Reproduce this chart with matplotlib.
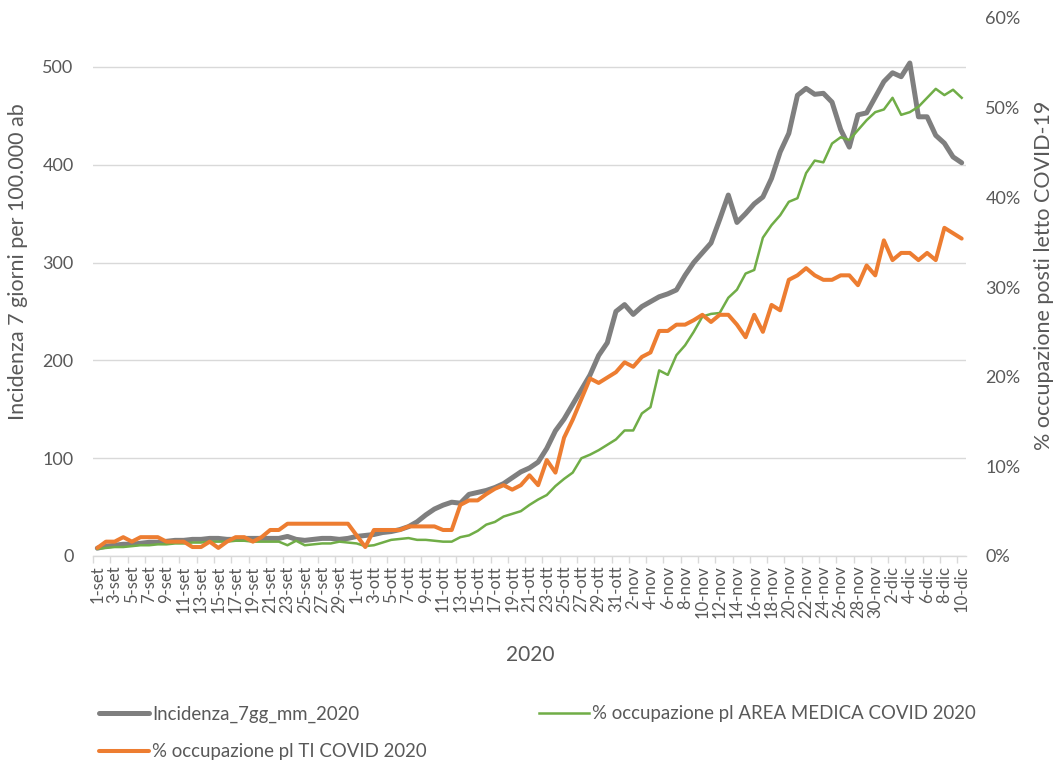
import matplotlib
matplotlib.use("Agg")
import matplotlib.pyplot as plt
from matplotlib.ticker import PercentFormatter, FixedLocator, MultipleLocator
import pandas as pd
import numpy as np

# ---- data ----
start_date = "2020-09-01"
mesi = {9: "set", 10: "ott", 11: "nov", 12: "dic"}

incidenza = [8, 10, 11, 12, 12, 13, 14, 14, 15, 16,
             16, 17, 17, 18, 18, 17, 17, 18, 18, 18,
             18, 18, 20, 17, 16, 17, 18, 18, 17, 18,
             20, 21, 22, 24, 25, 27, 30, 35, 42, 48,
             52, 55, 54, 63, 65, 67, 70, 74, 80, 86,
             90, 96, 110, 128, 140, 155, 170, 185, 205, 218,
             250, 257, 247, 255, 260, 265, 268, 272, 287, 300,
             310, 320, 344, 369, 341, 350, 360, 367, 386, 413,
             432, 471, 478, 472, 473, 464, 436, 418, 451, 453,
             469, 485, 494, 490, 504, 449, 449, 430, 422, 408,
             402]

area_medica = [0.8, 0.9, 1.0, 1.0, 1.1, 1.2, 1.2, 1.3, 1.3, 1.4,
               1.4, 1.5, 1.5, 1.6, 1.6, 1.6, 1.7, 1.7, 1.6, 1.6,
               1.6, 1.6, 1.2, 1.7, 1.2, 1.3, 1.4, 1.4, 1.6, 1.5,
               1.4, 1.1, 1.2, 1.5, 1.8, 1.9, 2.0, 1.8, 1.8, 1.7,
               1.6, 1.6, 2.1, 2.3, 2.8, 3.5, 3.8, 4.4, 4.7, 5.0,
               5.7, 6.3, 6.8, 7.8, 8.6, 9.3, 10.9, 11.3, 11.8, 12.4,
               13.0, 14.0, 14.0, 15.9, 16.6, 20.7, 20.2, 22.4, 23.5, 25.0,
               26.7, 27.0, 27.1, 28.8, 29.7, 31.5, 31.9, 35.5, 36.9, 38.0,
               39.5, 39.9, 42.7, 44.1, 43.9, 46.0, 46.7, 46.4, 47.5, 48.6,
               49.5, 49.8, 51.1, 49.2, 49.5, 50.1, 51.1, 52.1, 51.4, 52.0,
               51.1]

terapia_intensiva = [0.9, 1.6, 1.6, 2.1, 1.6, 2.1, 2.1, 2.1, 1.6, 1.6,
                     1.6, 1.0, 1.0, 1.6, 0.9, 1.6, 2.1, 2.1, 1.6, 2.1,
                     2.9, 2.9, 3.6, 3.6, 3.6, 3.6, 3.6, 3.6, 3.6, 3.6,
                     2.3, 1.0, 2.9, 2.9, 2.9, 2.9, 3.3, 3.3, 3.3, 3.3,
                     2.9, 2.9, 5.7, 6.2, 6.2, 6.9, 7.5, 7.9, 7.4, 7.9,
                     9.0, 7.9, 10.7, 9.3, 13.2, 15.2, 17.5, 19.8, 19.3, 19.9,
                     20.5, 21.6, 21.1, 22.2, 22.7, 25.1, 25.1, 25.8, 25.8, 26.3,
                     26.9, 26.1, 26.9, 26.9, 25.8, 24.4, 26.9, 25.0, 28.0, 27.4,
                     30.8, 31.3, 32.1, 31.3, 30.8, 30.8, 31.3, 31.3, 30.2, 32.4,
                     31.3, 35.2, 33.0, 33.8, 33.8, 33.0, 33.8, 33.0, 36.6, 36.0,
                     35.4]

series_names = ["Incidenza_7gg_mm_2020",
                "% occupazione pl AREA MEDICA COVID 2020",
                "% occupazione pl TI COVID 2020"]

dates = pd.date_range(start_date, periods=len(incidenza), freq="D")
categories = [f"{d.day}-{mesi[d.month]}" for d in dates]

# ---- style ----
FONT = ["Lato", "DejaVu Sans"]
plt.rcParams["font.family"] = FONT
TXT = "#595959"
GRID = "#d9d9d9"
C_GRAY = "#7f7f7f"
C_GREEN = "#70ad47"
C_ORANGE = "#ed7d31"

W, H = 1055, 766
fig = plt.figure(figsize=(W / 100, H / 100), dpi=100)
ax = fig.add_axes([93 / W, 1 - 556 / H, (966 - 93) / W, (556 - 18) / H])
ax2 = ax.twinx()

x = np.arange(len(categories))
l1, = ax.plot(x, incidenza, color=C_GRAY, lw=3.6, solid_joinstyle="round",
              solid_capstyle="round", label=series_names[0])
l2, = ax2.plot(x, area_medica, color=C_GREEN, lw=1.8, solid_joinstyle="round",
               label=series_names[1])
l3, = ax2.plot(x, terapia_intensiva, color=C_ORANGE, lw=2.9, solid_joinstyle="round",
               solid_capstyle="round", label=series_names[2])

ax.set_xlim(-0.5, len(categories) - 0.5)
ax.set_ylim(0, 550)
ax2.set_ylim(0, 60)

ax.yaxis.set_major_locator(FixedLocator([0, 100, 200, 300, 400, 500]))
ax2.yaxis.set_major_locator(MultipleLocator(10))
ax2.yaxis.set_major_formatter(PercentFormatter(xmax=100, decimals=0))

ax.grid(axis="y", color=GRID, lw=1.0)
ax.set_axisbelow(True)

for a in (ax, ax2):
    for s in ("top", "left", "right", "bottom"):
        a.spines[s].set_visible(False)
ax.spines["bottom"].set_visible(True)
ax.spines["bottom"].set_color(GRID)
ax.spines["bottom"].set_linewidth(1.0)

# x ticks: labels every 2 days, tick marks at category boundaries every 2 days
ax.set_xticks(x[::2])
ax.set_xticklabels(categories[::2], rotation=90, fontsize=12, color=TXT)
ax.set_xticks(np.arange(-0.5, len(categories), 2), minor=True)
ax.tick_params(axis="x", which="major", length=0, pad=7)
ax.tick_params(axis="x", which="minor", length=5, color=GRID, width=1)

ax.tick_params(axis="y", length=0, pad=14, labelsize=13, labelcolor=TXT)
ax2.tick_params(axis="y", length=0, pad=14, labelsize=13, labelcolor=TXT)

# axis titles
fig.text(18 / W, 1 - 262 / H, "Incidenza 7 giorni per 100.000 ab", rotation=90,
         ha="center", va="center", fontsize=15.5, color=TXT)
fig.text(1044 / W, 1 - 275 / H, "% occupazione posti letto COVID-19", rotation=90,
         ha="center", va="center", fontsize=15.5, color=TXT)
fig.text(530 / W, 1 - 655 / H, "2020", ha="center", va="center",
         fontsize=15, color=TXT)

# legend entries
legend_pos = [(99 / W, 1 - 714 / H), (539 / W, 1 - 714 / H), (99 / W, 1 - 752 / H)]
for h, pos in zip([l1, l2, l3], legend_pos):
    fig.legend(handles=[h], labels=[h.get_label()], loc="center left",
               bbox_to_anchor=pos, frameon=False, fontsize=13.4,
               handlelength=2.7, handletextpad=0.15, borderpad=0,
               borderaxespad=0, labelcolor=TXT)

fig.savefig("out.png", dpi=100)
